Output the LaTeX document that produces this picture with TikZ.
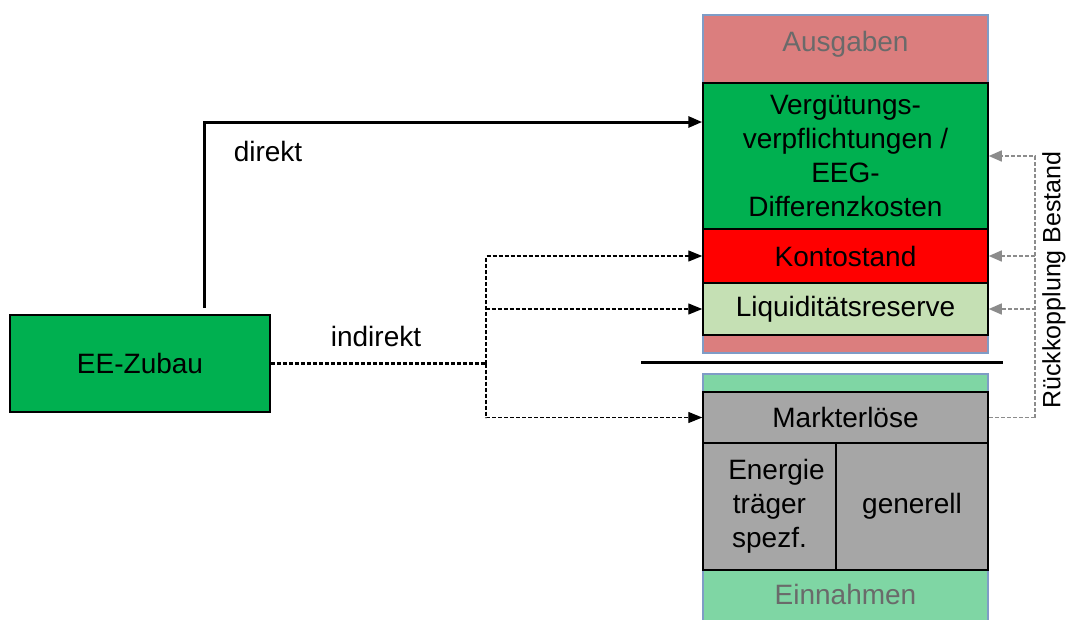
\documentclass[tikz,border=0pt]{standalone}
\usepackage{fontspec}
\setmainfont{Liberation Sans}
\usetikzlibrary{arrows.meta,calc}
\definecolor{ausgcol}{HTML}{DB7E7E}
\definecolor{einncol}{HTML}{7FD6A4}
\definecolor{eegreen}{HTML}{00B050}
\definecolor{liqcol}{HTML}{C5E0B4}
\definecolor{graycell}{HTML}{A6A6A6}
\definecolor{framecol}{HTML}{7F9CC6}
\definecolor{labgray}{HTML}{6A6A6A}
\definecolor{fbgray}{HTML}{8C8C8C}
\tikzset{
  cell/.style={draw=black, line width=1.5pt, inner sep=0pt, align=center,
    font=\fontsize{28}{34}\selectfont},
  outerbox/.style={draw=framecol, line width=1.5pt},
  headlab/.style={text=labgray, font=\fontsize{28}{34}\selectfont},
  plainlab/.style={font=\fontsize{28}{34}\selectfont},
  direktarrow/.style={line width=3pt, -{Triangle[length=14pt,width=11pt]}},
  indirarrow/.style={line width=1.4pt, dash pattern=on 4pt off 2pt, -{Triangle[length=14pt,width=11pt]}},
  indirline/.style={line width=2.6pt, dash pattern=on 4pt off 2pt},
  fbarrow/.style={draw=fbgray, line width=1.4pt, dash pattern=on 4pt off 2pt,
    -{Triangle[length=13pt,width=11pt,fill=fbgray]}},
  fbline/.style={draw=fbgray, line width=1.4pt, dash pattern=on 4pt off 2pt}
}
\begin{document}
\begin{tikzpicture}[x=1pt,y=-1pt]
\useasboundingbox[fill=white] (0,0) rectangle (1069,619);
% upper column
\draw[outerbox, fill=ausgcol] (703,15) rectangle (988,353);
\node[headlab] (ausg) at (845.5,44) {Ausgaben};
\node[cell, fill=eegreen, minimum width=285pt, minimum height=146pt] (verg) at (845.5,156)
  {Vergütungs-\\verpflichtungen /\\EEG-\\Differenzkosten};
\node[cell, fill=red, minimum width=285pt, minimum height=54pt] (konto) at (845.5,256) {Kontostand};
\node[cell, fill=liqcol, minimum width=285pt, minimum height=52pt] (liq) at (845.5,309) {Liquiditätsreserve};
% separator
\draw[line width=3pt] (641,362) -- (1003,362);
% lower column
\draw[outerbox, fill=einncol] (703,374) rectangle (988,630);
\node[cell, fill=graycell, minimum width=285pt, minimum height=51pt] (markt) at (845.5,417.5) {Markterlöse};
\node[cell, fill=graycell, minimum width=133pt, minimum height=127pt] (energ) at (769.5,506.5)
  {\hspace*{14pt}Energie\\träger\\spezf.};
\node[cell, fill=graycell, minimum width=152pt, minimum height=127pt] (gen) at (912,506.5) {generell};
\node[headlab] (einn) at (845.5,594) {Einnahmen};
% EE-Zubau
\node[cell, fill=eegreen, minimum width=260pt, minimum height=97pt] (zubau) at (140,363.5) {EE-Zubau};
% direkt
\coordinate (d0) at (204,308);
\draw[direktarrow] (d0) |- ([yshift=34pt]verg.west);
\node[plainlab] (direktlab) at (268,151) {direkt};
% indirekt
\coordinate (br) at (486,363.5);
\draw[indirline] (zubau.east) -- (br);
\draw[indirarrow] (br) |- (konto.west);
\draw[indirarrow] (br) |- (liq.west);
\draw[indirarrow] (br) |- (markt.west);
\node[plainlab] (indirlab) at (376,336) {indirekt};
% feedback
\coordinate (fb) at (1035,417.5);
\draw[fbline] (markt.east) -- (fb);
\draw[fbarrow] (fb) |- (verg.east);
\draw[fbarrow] (fb) |- (konto.east);
\draw[fbarrow] (fb) |- (liq.east);
\node[rotate=90, font=\fontsize{25}{30}\selectfont] (rueck) at (1054,280) {Rückkopplung Bestand};
\end{tikzpicture}
\end{document}
